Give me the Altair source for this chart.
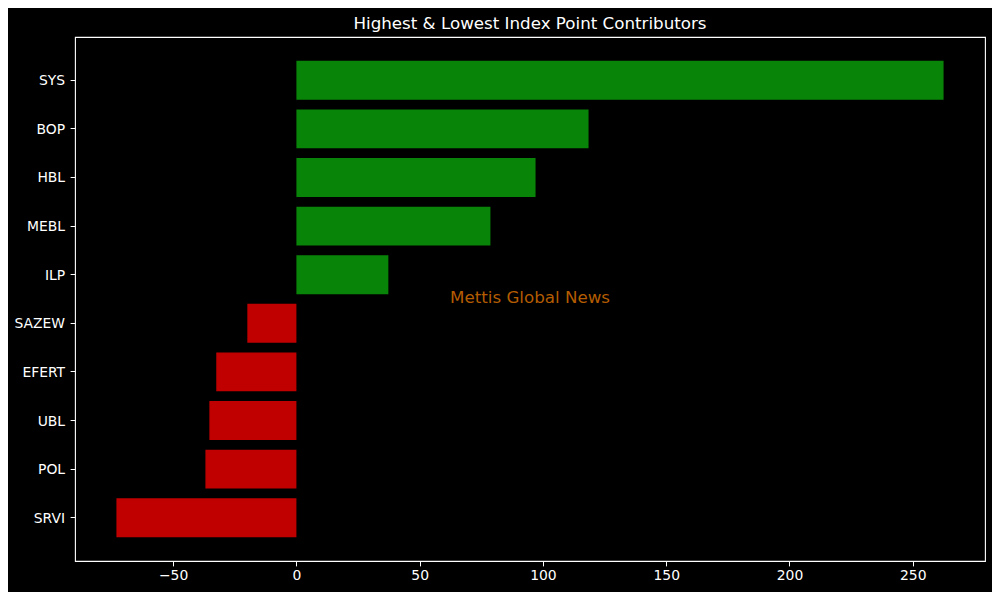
import altair as alt
import pandas as pd

stocks = ["SYS", "BOP", "HBL", "MEBL", "ILP", "SAZEW", "EFERT", "UBL", "POL", "SRVI"]
points = [262.5, 118.5, 97.0, 78.7, 37.3, -19.9, -32.5, -35.3, -36.9, -73.0]
x_ticks = [-50, 0, 50, 100, 150, 200, 250]
title_text = "Highest & Lowest Index Point Contributors"
watermark = "Mettis Global News"

df = pd.DataFrame({"stock": stocks, "points": points})
df["color"] = ["#088408" if v >= 0 else "#c00000" for v in points]

FONT = "DejaVu Sans"

bars = alt.Chart(df).mark_bar().encode(
    y=alt.Y("stock:N", sort=stocks,
            scale=alt.Scale(paddingInner=0.2, paddingOuter=0.49),
            axis=alt.Axis(title=None, labelColor="white", tickColor="white",
                          tickSize=4.9, labelPadding=5.5, labelFontSize=13.9,
                          labelFont=FONT, domain=False, grid=False,
                          labelOffset=1)),
    x=alt.X("points:Q",
            scale=alt.Scale(domain=[-89.8, 279.3], nice=False, zero=False),
            axis=alt.Axis(title=None, values=x_ticks, labelColor="white",
                          tickColor="white", tickSize=4.9, labelPadding=3,
                          labelFontSize=13.9, labelFont=FONT, domain=False,
                          grid=False, labelFlush=False)),
    x2=alt.datum(0),
    color=alt.Color("color:N", scale=None, legend=None),
)

wm = alt.Chart(pd.DataFrame({"t": [watermark]})).mark_text(
    font=FONT, fontSize=16.7, color="#b35c00", align="center", baseline="middle"
).encode(
    x=alt.value(455), y=alt.value(261), text="t:N"
)

chart = alt.layer(bars, wm).properties(
    width=910, height=524,
    autosize=alt.AutoSizeParams(type="none"),
    padding={"left": 67, "top": 29, "right": 7, "bottom": 31},
    background="black",
    title=alt.TitleParams(title_text, color="white", font=FONT, fontSize=16.7,
                          fontWeight="normal", offset=4, anchor="middle"),
).configure_view(stroke="white", strokeWidth=1.1)

chart.save("out.html", embed_options={"renderer": "svg", "actions": False})
